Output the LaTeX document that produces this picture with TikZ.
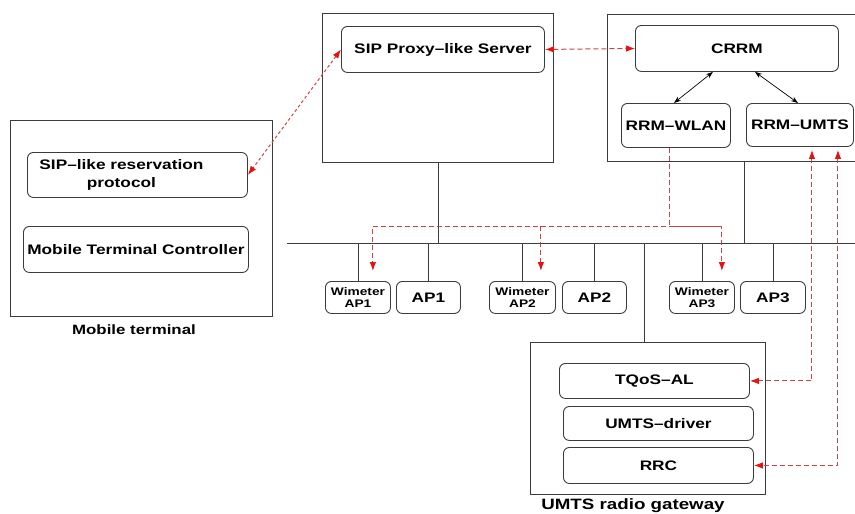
\documentclass[tikz,border=0pt]{standalone}
\usepackage{fontspec}
\newfontfamily\figfont[FakeStretch=1.25]{Liberation Sans}
\usetikzlibrary{arrows.meta, positioning, calc}
\definecolor{sigred}{HTML}{C84545}
\definecolor{tipred}{HTML}{E81010}
\definecolor{edge}{HTML}{3C3C3C}

\begin{document}
\begin{tikzpicture}[
    x=1pt, y=-1pt,
    frame/.style={rectangle, draw=edge, line width=0.9pt, anchor=north west, inner sep=0pt},
    module/.style={rectangle, draw=edge, line width=0.9pt, rounded corners=6pt, anchor=north west, inner sep=0pt, align=center, font=\figfont\bfseries\fontsize{13.8}{18}\selectfont},
    wimbox/.style={module, font=\figfont\bfseries\fontsize{11}{11.5}\selectfont},
    boxtext/.style={align=center, inner sep=0pt, font=\figfont\bfseries\fontsize{13.8}{18}\selectfont},
    caption/.style={font=\figfont\bfseries\fontsize{13.5}{16}\selectfont},
    wire/.style={draw=edge, line width=0.9pt},
    sig/.style={draw=sigred, line width=1pt, dash pattern=on 5pt off 3pt},
    sigdot/.style={sig, dash pattern=on 3pt off 2.5pt},
    ctl/.style={draw=black, line width=0.7pt, {Stealth[length=7pt,width=5pt]}-{Stealth[length=7pt,width=5pt]}},
    redhead/.tip={Latex[length=9pt, width=6.5pt, color=tipred]}
]
\useasboundingbox (0,0) rectangle (855,514);
\clip (0,0) rectangle (855,514);

% mobile terminal
\node[frame, minimum width=262, minimum height=196] (mt) at (10,120) {};
\node[module, minimum width=220, minimum height=45] (sipres) at (27,152) {};
\node[boxtext] (sipres-txt) at ([xshift=-16pt]sipres.center) {SIP–like reservation\\protocol};
\node[module, minimum width=225, minimum height=46] (mtc) at (23,226) {Mobile Terminal Controller};
\node[caption] (mt-label) at (134,330) {Mobile terminal};

% SIP proxy
\node[frame, minimum width=231, minimum height=149] (proxybox) at (322,13) {};
\node[module, minimum width=203, minimum height=46] (proxy) at (341,26) {SIP Proxy–like Server};

% radio resource management
\node[frame, minimum width=274, minimum height=147] (crrmbox) at (607,14) {};
\node[module, minimum width=203, minimum height=46] (crrm) at (635,25) {CRRM};
\node[module, minimum width=109, minimum height=44] (rrmw) at (621,103) {RRM–WLAN};
\node[module, minimum width=107, minimum height=43] (rrmu) at (746,103) {RRM–UMTS};

% backbone
\coordinate (busW) at (287,243);
\coordinate (busE) at (870,243);
\draw[wire] (busW) -- (busE);

% access points
\node[wimbox, minimum width=65, minimum height=32] (wim1) at (325,281) {Wimeter\\AP1};
\node[module, minimum width=64, minimum height=32] (ap1) at (396,281) {AP1};
\node[wimbox, minimum width=66, minimum height=32] (wim2) at (489,281) {Wimeter\\AP2};
\node[module, minimum width=64, minimum height=32] (ap2) at (562,281) {AP2};
\node[wimbox, minimum width=65, minimum height=32] (wim3) at (669,281) {Wimeter\\AP3};
\node[module, minimum width=65, minimum height=32] (ap3) at (740,281) {AP3};

% UMTS gateway
\node[frame, minimum width=235, minimum height=152] (gw) at (530,342) {};
\node[module, minimum width=190, minimum height=35] (tqos) at (559,363) {TQoS–AL};
\node[module, minimum width=190, minimum height=34] (driver) at (563,406) {UMTS–driver};
\node[module, minimum width=190, minimum height=36] (rrc) at (563,447) {RRC};
\node[caption, font=\figfont\bfseries\fontsize{15}{18}\selectfont] (gw-label) at (633,506) {UMTS radio gateway};

% attachments to the backbone
\foreach \n in {wim1, ap1, wim2, ap2, wim3, ap3}
    \draw[wire] (\n.north) -- (\n.north |- busW);
\draw[wire] (proxybox.south) -- (proxybox.south |- busW);
\draw[wire] (crrmbox.south) -- (crrmbox.south |- busW);
\draw[wire] ([xshift=-4pt]gw.north) -- ([xshift=-4pt]gw.north |- busW);

% control links
\draw[ctl] ([xshift=-24pt]crrm.south) -- ([xshift=-2pt]rrmw.north);
\draw[ctl] ([xshift=18pt]crrm.south) -- ([xshift=-2pt]rrmu.north);

% signalling
\draw[sigdot, redhead-redhead] (proxy.west) -- (sipres.east);
\draw[sig, redhead-redhead] (proxy.east) -- (crrm.west);

\coordinate (fan) at (0,226);
\coordinate (w1in) at ([xshift=-18pt, yshift=10pt]wim1.north east);
\coordinate (w2in) at ([xshift=-15pt, yshift=10pt]wim2.north east);
\coordinate (w3in) at ([xshift=-13pt, yshift=10pt]wim3.north east);
\draw[sig, -redhead] ([xshift=-6pt]rrmw.south) |- (w3in |- fan) -- (w3in);
\draw[sig, -redhead] (w3in |- fan) -- (w1in |- fan) -- (w1in);
\draw[sig, -redhead] (w2in |- fan) -- (w2in);

\draw[sig, redhead-redhead] ([xshift=12pt, yshift=-3pt]rrmu.south) |- (tqos.east);
\draw[sig, redhead-redhead] ([xshift=38pt, yshift=-3pt]rrmu.south) |- (rrc.east);
\end{tikzpicture}
\end{document}
